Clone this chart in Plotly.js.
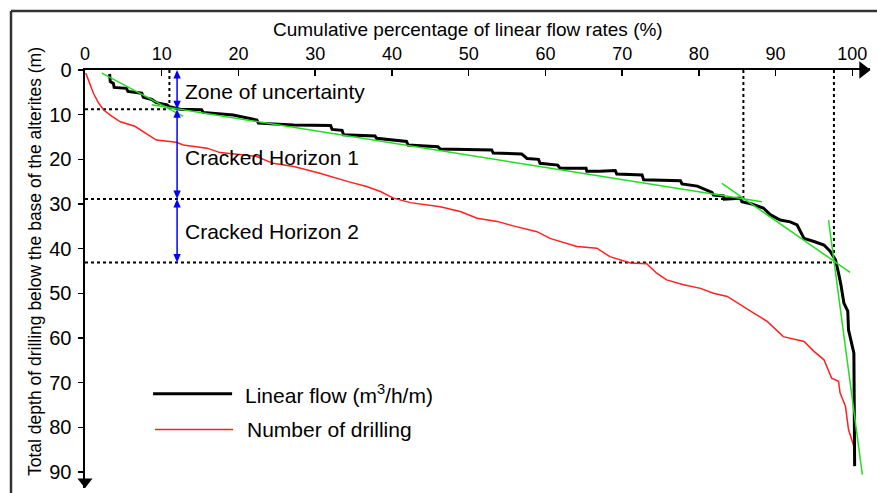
<!DOCTYPE html>
<html>
<head>
<meta charset="utf-8">
<script src="https://cdn.plot.ly/plotly-3.0.1.min.js"></script>
<style>html,body{margin:0;padding:0;background:#fff;}#chart{width:877px;height:493px;}</style>
</head>
<body>
<div id="chart"></div>
<script>
// Linear flow curve: cumulative % of linear flow rates vs depth (m)
var flowPct = [3.2,3.3,3.7,3.8,5.4,5.6,7.4,7.6,8.7,9.3,10.7,11.0,12.4,15.2,15.4,19.3,22.4,22.6,27.2,32.0,32.2,33.5,33.7,37.8,38.0,41.9,42.1,46.0,46.3,53.0,53.2,56.9,57.6,59.1,59.3,61.6,61.9,65.3,65.4,67.1,69.1,69.3,72.6,72.8,77.6,77.8,79.8,81.7,81.9,83.2,83.3,85.4,85.6,86.9,88.4,89.3,90.6,91.9,92.8,93.7,95.0,96.3,97.1,97.8,98.2,98.5,98.9,99.4,99.5,100.2,100.3];
var flowDepth = [0.9,2.6,3.0,3.9,4.1,4.8,5.2,6.1,6.6,7.3,7.8,8.2,8.8,8.9,9.5,10.1,11.2,11.9,12.3,12.4,13.3,13.5,14.5,14.8,15.3,16.0,16.8,17.2,17.7,17.9,18.6,18.8,19.8,20.0,20.9,21.3,22.0,22.0,22.7,22.7,22.5,23.3,23.5,24.6,24.8,25.5,26.0,27.4,28.0,28.2,28.9,28.7,29.5,30.0,30.9,32.4,33.6,34.0,34.7,37.7,38.4,39.2,40.6,42.5,45.5,48.0,52.2,54.0,58.2,63.4,88.7];
// Number of drilling curve
var drillPct = [0.1,0.5,1.1,1.7,2.4,3.3,4.6,6.5,7.6,9.3,11.9,12.8,15.9,17.6,22.3,24.5,27.2,30.6,34.3,36.7,38.5,40.2,42.4,46.3,48.9,51.1,53.7,55.8,58.9,60.6,64.1,66.7,68.4,71.1,73.2,74.5,75.8,78.0,80.2,81.9,83.7,85.4,87.1,88.9,91.0,93.7,95.0,96.3,97.3,98.2,98.4,99.1,99.5,100.2,100.3];
var drillDepth = [0.7,2.5,5.2,7.2,8.9,10.1,11.6,12.6,13.8,15.7,16.2,16.8,17.5,18.5,19.3,20.9,21.6,23.1,25.0,26.1,27.2,28.7,29.7,30.6,31.7,33.2,33.9,34.9,36.2,37.7,39.5,39.9,41.8,43.2,43.4,45.5,47.0,48.1,48.9,50.0,50.7,52.6,54.4,56.3,59.7,60.8,63.0,64.9,69.0,69.7,72.3,75.3,80.5,84.3,88.7];
// Fitted trend segments (green)
var fit1Pct = [2.2,12.8],  fit1Depth = [0.7,10.4];
var fit2Pct = [8.7,88.2],  fit2Depth = [7.8,29.5];
var fit3Pct = [83.0,99.7], fit3Depth = [25.4,45.3];
var fit4Pct = [96.9,101.3],fit4Depth = [33.6,90.6];
// Zone boundaries
var boundDepth = [8.8, 28.9, 43.1];
var boundPct = [11.0, 85.8, 97.6];
var zoneTop = [0, 8.8, 28.9];
var zoneBottom = [8.8, 28.9, 43.1];
var zoneLabels = ["Zone of uncertainty", "Cracked Horizon 1", "Cracked Horizon 2"];
var zoneLabelDepth = [4.9, 19.5, 36.2];
var zoneArrowPct = 12.0;
var xTicks = [0,10,20,30,40,50,60,70,80,90,100];
var yTicks = [0,10,20,30,40,50,60,70,80,90];
var legendNames = ["Linear flow (m<sup>3</sup>/h/m)", "Number of drilling"];
var xTitle = "Cumulative percentage of linear flow rates (%)";
var yTitle = "Total depth of drilling below the base of the alterites (m)";
var xMax = 102.3, yMax = 93.6;

var FONT = "Liberation Sans, Arial, Helvetica, sans-serif";
var traces = [];
for (var i = 0; i < boundDepth.length; i++) {
  traces.push({x:[0, boundPct[i]], y:[boundDepth[i], boundDepth[i]], mode:'lines', line:{color:'#000', width:2, dash:'dot'}, hoverinfo:'skip', showlegend:false});
  traces.push({x:[boundPct[i], boundPct[i]], y:[0, boundDepth[i]], mode:'lines', line:{color:'#000', width:2, dash:'dot'}, hoverinfo:'skip', showlegend:false});
}
traces.push({x:drillPct, y:drillDepth, mode:'lines', name:'Number of drilling', line:{color:'#ff2020', width:1.5}, showlegend:false});
traces.push({x:flowPct, y:flowDepth, mode:'lines', name:'Linear flow (m3/h/m)', line:{color:'#000', width:3}, showlegend:false});
[[fit1Pct,fit1Depth],[fit2Pct,fit2Depth],[fit3Pct,fit3Depth],[fit4Pct,fit4Depth]].forEach(function(f){
  traces.push({x:f[0], y:f[1], mode:'lines', line:{color:'#22dd22', width:1.5}, hoverinfo:'skip', showlegend:false});
});
// axis arrowheads as markers at the axis ends
traces.push({x:[xMax - 0.9], y:[0], mode:'markers', marker:{symbol:'triangle-right', size:15, color:'#000', line:{width:0}}, cliponaxis:false, hoverinfo:'skip', showlegend:false});
traces.push({x:[0], y:[yMax - 1.4], mode:'markers', marker:{symbol:'triangle-down', size:13, color:'#000', line:{width:0}}, cliponaxis:false, hoverinfo:'skip', showlegend:false});

var shapes = [];
var headLen = 1.9, headHalf = 0.48;
for (var j = 0; j < zoneTop.length; j++) {
  var a = zoneArrowPct, t = zoneTop[j], b = zoneBottom[j];
  shapes.push({type:'line', xref:'x', yref:'y', x0:a, x1:a, y0:t + headLen*0.5, y1:b - headLen*0.5, line:{color:'#0000ff', width:1.5}});
  shapes.push({type:'path', xref:'x', yref:'y', path:'M'+a+','+t+' L'+(a-headHalf)+','+(t+headLen)+' L'+(a+headHalf)+','+(t+headLen)+' Z', fillcolor:'#0000ff', line:{width:0}});
  shapes.push({type:'path', xref:'x', yref:'y', path:'M'+a+','+b+' L'+(a-headHalf)+','+(b-headLen)+' L'+(a+headHalf)+','+(b-headLen)+' Z', fillcolor:'#0000ff', line:{width:0}});
}
// outer frame (top and left)
shapes.push({type:'line', xref:'paper', yref:'paper', x0:(11-85)/785, x1:1.02, y0:1+(70-11)/418, y1:1+(70-11)/418, line:{color:'#333', width:2.5}});
shapes.push({type:'line', xref:'paper', yref:'paper', x0:(11-85)/785, x1:(11-85)/785, y0:1+(70-11)/418, y1:-0.03, line:{color:'#333', width:2.5}});
// legend samples
shapes.push({type:'line', xref:'x', yref:'y', x0:8.87, x1:19.17, y0:72.5, y1:72.5, line:{color:'#000', width:3}});
shapes.push({type:'line', xref:'x', yref:'y', x0:9.13, x1:19.3, y0:80.5, y1:80.5, line:{color:'#ff2020', width:1.5}});

var annotations = [];
for (var k = 0; k < zoneLabels.length; k++) {
  annotations.push({x:zoneArrowPct + 0.75, y:zoneLabelDepth[k], xref:'x', yref:'y', text:zoneLabels[k], showarrow:false, xanchor:'left', yanchor:'middle', font:{family:FONT, size:21, color:'#000'}});
}
annotations.push({x:20.6, y:72.5, xref:'x', yref:'y', text:legendNames[0], showarrow:false, xanchor:'left', yanchor:'middle', font:{family:FONT, size:21, color:'#000'}});
annotations.push({x:20.9, y:80.5, xref:'x', yref:'y', text:legendNames[1], showarrow:false, xanchor:'left', yanchor:'middle', font:{family:FONT, size:21, color:'#000'}});
annotations.push({x:0.488, y:1.0 + (70-30)/418, xref:'paper', yref:'paper', text:xTitle, showarrow:false, xanchor:'center', yanchor:'middle', font:{family:FONT, size:19, color:'#000'}});
annotations.push({x:(35-85)/785, y:(488-262)/418, xref:'paper', yref:'paper', text:yTitle, textangle:-90, showarrow:false, xanchor:'center', yanchor:'middle', font:{family:FONT, size:17.5, color:'#000'}});

var layout = {
  width:877, height:493,
  margin:{l:85, r:7, t:70, b:5, pad:0},
  paper_bgcolor:'#fff', plot_bgcolor:'#fff',
  showlegend:false,
  font:{family:FONT, size:16, color:'#000'},
  xaxis:{range:[0,xMax], side:'top', tickvals:xTicks, ticktext:xTicks.map(String), ticks:'inside', ticklen:6, tickwidth:1.5, tickcolor:'#000', showline:true, linecolor:'#000', linewidth:2.5, showgrid:false, zeroline:false, tickfont:{family:FONT, size:18}, fixedrange:true},
  yaxis:{range:[yMax,0], tickvals:yTicks, ticktext:yTicks.map(String), ticks:'outside', ticklen:5, tickwidth:1.5, tickcolor:'#000', showline:true, linecolor:'#000', linewidth:2.5, showgrid:false, zeroline:false, tickfont:{family:FONT, size:20}, ticklabelstandoff:2, fixedrange:true},
  annotations:annotations,
  shapes:shapes
};
Plotly.newPlot('chart', traces, layout, {staticPlot:true, displayModeBar:false});
</script>
</body>
</html>
